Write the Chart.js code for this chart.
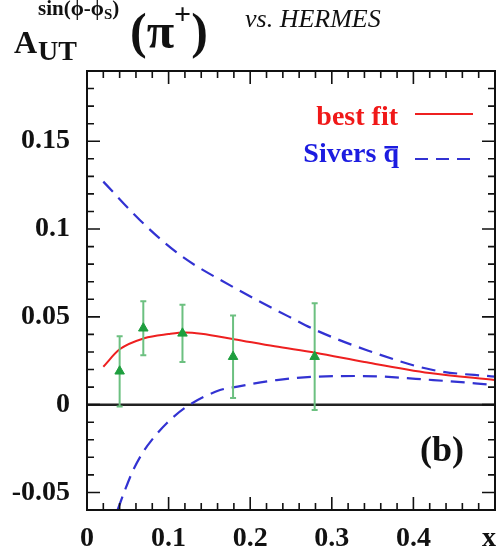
<!DOCTYPE html>
<html>
<head>
<meta charset="utf-8">
<script src="https://cdn.jsdelivr.net/npm/chart.js@4.4.0/dist/chart.umd.min.js"></script>
<style>
  html, body { margin: 0; padding: 0; background: #fff; }
  canvas { display: block; }
</style>
</head>
<body>
<canvas id="siversChart" width="504" height="551"></canvas>
<script>
// HERMES pi+ Sivers asymmetry vs x, with the fit and the anti-quark Sivers band

// Tick values / labels
const xTickValues = [0, 0.1, 0.2, 0.3, 0.4];
const xTickLabels = ["0", "0.1", "0.2", "0.3", "0.4"];
const yTickValues = [-0.05, 0, 0.05, 0.1, 0.15];
const yTickLabels = ["-0.05", "0", "0.05", "0.1", "0.15"];

// HERMES data points
const hermesX = [0.040, 0.069, 0.117, 0.179, 0.279];
const hermesY = [0.019, 0.0435, 0.0406, 0.0273, 0.0273];
const hermesErr = [0.020, 0.0154, 0.0163, 0.0235, 0.0304];

// Best fit curve
const bestFitX = [0.02, 0.04, 0.07, 0.10, 0.12, 0.14, 0.18, 0.23, 0.28, 0.34, 0.42, 0.50];
const bestFitY = [0.0216, 0.0315, 0.0378, 0.0402, 0.0411, 0.0404, 0.0373, 0.0332, 0.0296, 0.0243, 0.0180, 0.0140];

// Sivers anti-quark bounds
const siversUpX = [0.02, 0.065, 0.114, 0.179, 0.252, 0.28, 0.343, 0.424, 0.50];
const siversUpY = [0.127, 0.105, 0.0852, 0.067, 0.049, 0.0425, 0.031, 0.0197, 0.0159];
const siversLowX = [0.0375, 0.0466, 0.0567, 0.069, 0.0793, 0.0977, 0.122, 0.163, 0.179, 0.2325, 0.2786, 0.3346, 0.4244, 0.50];
const siversLowY = [-0.060, -0.0486, -0.0372, -0.0268, -0.0202, -0.0106, -0.0012, 0.0083, 0.0098, 0.014, 0.0159, 0.0163, 0.014, 0.0112];

const SERIF = '"Liberation Serif", "Times New Roman", "DejaVu Serif", serif';
const RED = "#ee2020";
const BLUE = "#3232d2";
const GREEN = "#1e9e3e";
const GREEN_BAR = "#6cc080";

function toPoints(xs, ys) {
  return xs.map((x, i) => ({ x: x, y: ys[i] }));
}

// Zero line, boxed frame and inward ticks on all four sides
const frameTicks = {
  id: "frameTicks",
  beforeDatasetsDraw(chart) {
    const { ctx, chartArea: a, scales } = chart;
    const y0 = scales.y.getPixelForValue(0);
    ctx.save();
    ctx.strokeStyle = "#222";
    ctx.lineWidth = 2.5;
    ctx.beginPath();
    ctx.moveTo(a.left, y0);
    ctx.lineTo(a.right, y0);
    ctx.stroke();
    ctx.restore();
  },
  afterDatasetsDraw(chart) {
    const { ctx, chartArea: a, scales } = chart;
    ctx.save();
    ctx.strokeStyle = "#111";
    ctx.lineWidth = 2;
    ctx.strokeRect(a.left, a.top, a.right - a.left, a.bottom - a.top);

    ctx.lineWidth = 1.6;
    ctx.beginPath();
    for (let i = 0; i <= 25; i++) {
      const px = scales.x.getPixelForValue(i * 0.02);
      const len = i % 5 === 0 ? 13 : 7;
      ctx.moveTo(px, a.bottom);
      ctx.lineTo(px, a.bottom - len);
      ctx.moveTo(px, a.top);
      ctx.lineTo(px, a.top + len);
    }
    for (let i = -6; i <= 19; i++) {
      const py = scales.y.getPixelForValue(i * 0.01);
      const len = i % 5 === 0 ? 13 : 7;
      ctx.moveTo(a.left, py);
      ctx.lineTo(a.left + len, py);
      ctx.moveTo(a.right, py);
      ctx.lineTo(a.right - len, py);
    }
    ctx.stroke();
    ctx.restore();
  },
};

// Vertical error bars under the HERMES markers
const errorBars = {
  id: "errorBars",
  beforeDatasetDraw(chart, args) {
    if (args.index !== 0) return;
    const { ctx, scales } = chart;
    ctx.save();
    ctx.strokeStyle = GREEN_BAR;
    ctx.lineWidth = 2;
    ctx.beginPath();
    hermesX.forEach((xv, i) => {
      const px = scales.x.getPixelForValue(xv);
      const top = scales.y.getPixelForValue(hermesY[i] + hermesErr[i]);
      const bot = scales.y.getPixelForValue(hermesY[i] - hermesErr[i]);
      ctx.moveTo(px, top);
      ctx.lineTo(px, bot);
      ctx.moveTo(px - 3, top);
      ctx.lineTo(px + 3, top);
      ctx.moveTo(px - 3, bot);
      ctx.lineTo(px + 3, bot);
    });
    ctx.stroke();
    ctx.restore();
  },
};

// Title, legend, panel tag and axis name
const annotations = {
  id: "annotations",
  afterDraw(chart) {
    const { ctx, scales } = chart;
    ctx.save();
    ctx.textBaseline = "alphabetic";
    ctx.textAlign = "left";
    ctx.fillStyle = "#111";

    // A_UT^{sin(phi-phi_S)}(pi+)
    ctx.font = "bold 32px " + SERIF;
    ctx.fillText("A", 14, 53);
    ctx.font = "bold 28px " + SERIF;
    ctx.fillText("UT", 38, 60);
    ctx.font = "bold 21px " + SERIF;
    let cx = 38;
    const sup = "sin(\u03D5-\u03D5";
    ctx.fillText(sup, cx, 15);
    cx += ctx.measureText(sup).width;
    ctx.font = "bold 15px " + SERIF;
    ctx.fillText("S", cx, 19);
    cx += ctx.measureText("S").width;
    ctx.font = "bold 21px " + SERIF;
    ctx.fillText(")", cx, 15);

    cx = 130;
    ctx.font = "bold 50px " + SERIF;
    ctx.fillText("(\u03C0", cx, 48);
    cx += ctx.measureText("(\u03C0").width;
    ctx.font = "bold 30px " + SERIF;
    ctx.fillText("+", cx, 24);
    cx += ctx.measureText("+").width;
    ctx.font = "bold 50px " + SERIF;
    ctx.fillText(")", cx, 48);

    ctx.font = "italic 26px " + SERIF;
    ctx.fillText("vs. HERMES", 245, 27);

    // legend
    ctx.textAlign = "right";
    ctx.font = "bold 28px " + SERIF;
    ctx.fillStyle = "#f01818";
    ctx.fillText(chart.data.datasets[1].label, 398, 125);
    ctx.fillStyle = "#1c1ce0";
    ctx.fillText("Sivers q", 399, 162);
    const qw = ctx.measureText("q").width;
    ctx.fillRect(399 - qw + 1, 146, qw - 2, 2.5);

    ctx.lineWidth = 2;
    ctx.strokeStyle = RED;
    ctx.beginPath();
    ctx.moveTo(415, 114);
    ctx.lineTo(473, 114);
    ctx.stroke();
    ctx.strokeStyle = BLUE;
    ctx.lineWidth = 2.2;
    ctx.setLineDash([13, 8]);
    ctx.beginPath();
    ctx.moveTo(415, 159);
    ctx.lineTo(473, 159);
    ctx.stroke();
    ctx.setLineDash([]);

    // panel tag
    ctx.textAlign = "left";
    ctx.fillStyle = "#111";
    ctx.font = "bold 36px " + SERIF;
    ctx.fillText("(b)", 420, 461);

    // axis name in place of the last x label
    ctx.textAlign = "center";
    ctx.textBaseline = "middle";
    ctx.font = "bold 28px " + SERIF;
    ctx.fillText("x", scales.x.getPixelForValue(0.5) - 6, 539);
    ctx.restore();
  },
};

const ctx = document.getElementById("siversChart");

new Chart(ctx, {
  type: "line",
  data: {
    datasets: [
      {
        label: "HERMES",
        data: toPoints(hermesX, hermesY),
        showLine: false,
        pointStyle: "triangle",
        pointRadius: 5.5,
        pointBackgroundColor: GREEN,
        pointBorderColor: GREEN,
        pointBorderWidth: 1,
      },
      {
        label: "best fit",
        data: toPoints(bestFitX, bestFitY),
        borderColor: RED,
        borderWidth: 2,
        pointRadius: 0,
        cubicInterpolationMode: "monotone",
      },
      {
        label: "Sivers q upper",
        data: toPoints(siversUpX, siversUpY),
        borderColor: BLUE,
        borderWidth: 2.2,
        borderDash: [14, 8],
        pointRadius: 0,
        cubicInterpolationMode: "monotone",
      },
      {
        label: "Sivers q lower",
        data: toPoints(siversLowX, siversLowY),
        borderColor: BLUE,
        borderWidth: 2.2,
        borderDash: [14, 8],
        pointRadius: 0,
        cubicInterpolationMode: "monotone",
      },
    ],
  },
  options: {
    responsive: false,
    animation: false,
    devicePixelRatio: 1,
    layout: {
      padding: { top: 71, right: 9, left: 0, bottom: 0 },
    },
    plugins: {
      legend: { display: false },
      tooltip: { enabled: false },
    },
    scales: {
      x: {
        type: "linear",
        position: "bottom",
        min: 0,
        max: 0.5,
        grid: { display: false, drawTicks: false },
        border: { display: false },
        afterBuildTicks: (scale) => {
          scale.ticks = xTickValues.map((v) => ({ value: v }));
        },
        afterFit: (scale) => {
          scale.height = 41;
        },
        ticks: {
          autoSkip: false,
          maxRotation: 0,
          padding: 12,
          color: "#111",
          font: { family: SERIF, size: 28, weight: "bold" },
          callback: (value, index) => xTickLabels[index],
        },
      },
      y: {
        type: "linear",
        position: "left",
        min: -0.06,
        max: 0.19,
        grid: { display: false, drawTicks: false },
        border: { display: false },
        afterBuildTicks: (scale) => {
          scale.ticks = yTickValues.map((v) => ({ value: v }));
        },
        afterFit: (scale) => {
          scale.width = 87;
        },
        ticks: {
          autoSkip: false,
          padding: 17,
          color: "#111",
          font: { family: SERIF, size: 28, weight: "bold" },
          callback: (value, index) => yTickLabels[index],
        },
      },
    },
  },
  plugins: [frameTicks, errorBars, annotations],
});
</script>
</body>
</html>
